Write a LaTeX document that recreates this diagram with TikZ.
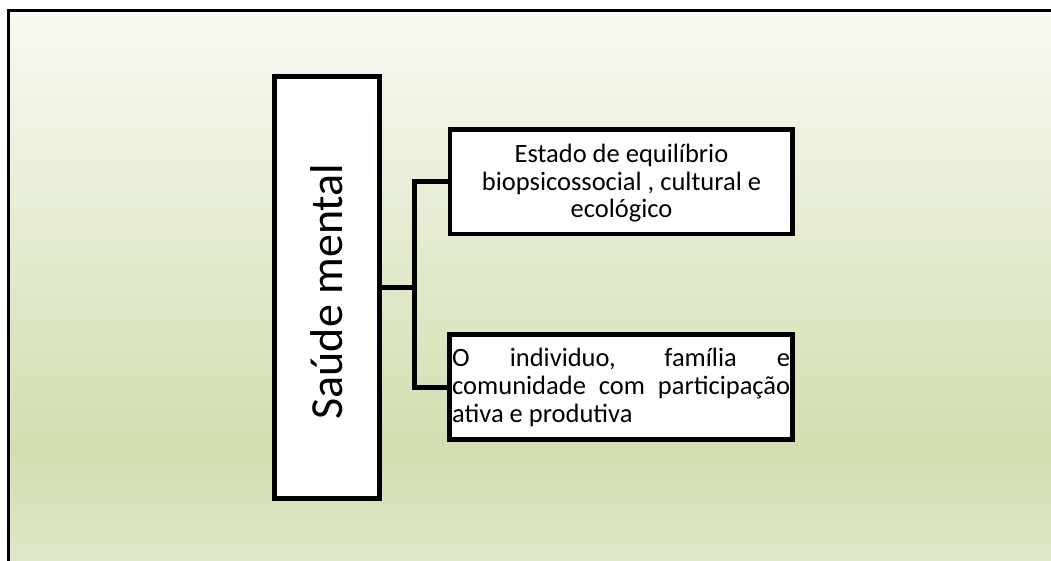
\documentclass[tikz,border=0pt]{standalone}
\usepackage{fontspec}
\setmainfont{Carlito}
\definecolor{ctop}{RGB}{248,250,243}
\definecolor{cmid}{RGB}{210,222,176}
\definecolor{cbot}{RGB}{223,232,201}
\pgfdeclareverticalshading{bgshade}{100bp}{color(0bp)=(cbot); color(25bp)=(cbot); color(35bp)=(cmid); color(75bp)=(ctop); color(100bp)=(ctop)}
\begin{document}
\begin{tikzpicture}[x=1pt,y=-1pt,
  boxstyle/.style={draw=black, line width=4.5pt, fill=white, rectangle, inner sep=0pt},
  linkstyle/.style={draw=black, line width=5pt, line join=miter},
  txtstyle/.style={inner sep=0pt, text=black}]
\useasboundingbox (0,0) rectangle (1051,560);
\fill[white] (0,0) rectangle (1051,560);
% background panel
\shade[shading=bgshade] (8.5,10.5) rectangle (1051,560);
\draw[line width=3pt, line cap=rect] (8.5,560) -- (8.5,10.5) -- (1055,10.5);
% boxes
\node[boxstyle, minimum width=105pt, minimum height=422pt] (main) at (327,287.5) {};
\node[boxstyle, minimum width=342.5pt, minimum height=104.5pt] (b1) at (621.25,181.75) {};
\node[boxstyle, minimum width=343pt, minimum height=105pt] (b2) at (621,387) {};
% connectors
\coordinate (j) at (414.5,287.5);
\draw[linkstyle] (main.east) -- (j);
\draw[linkstyle] (b1.west) -- (b1.west -| j) -- (b2.west -| j) -- (b2.west);
% texts
\node[txtstyle, rotate=90, anchor=base, font=\fontsize{46}{55}\selectfont] (tmain) at (342,291.5) {Saúde mental};
\node[txtstyle, anchor=base] (t1) at (621.5,162.7) {\parbox[t]{330pt}{\centering\fontsize{26.5}{27.3}\selectfont Estado de equilíbrio\\ biopsicossocial , cultural e\\ ecológico}};
\node[txtstyle, anchor=base west] (t2) at (452,366.5) {\parbox[t]{338pt}{\fontsize{26.5}{27.8}\selectfont\makebox[338pt][s]{O individuo, família e}\\ \makebox[338pt][s]{comunidade com participação}\\ ativa e produtiva}};
\end{tikzpicture}
\end{document}
